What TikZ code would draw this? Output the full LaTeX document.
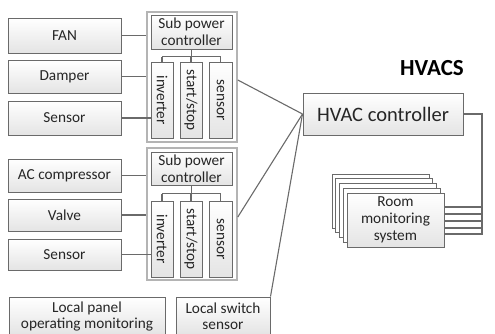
\documentclass[tikz,border=0pt]{standalone}
\usepackage{fontspec}
\setmainfont{Carlito}
\usepackage{graphicx}
\usetikzlibrary{calc}
\definecolor{edge}{HTML}{6A6A6A}
\definecolor{grpedge}{HTML}{B4B4B4}
\definecolor{boxbot}{HTML}{E4E4E4}
\tikzset{
  box/.style={draw=edge, line width=1pt, top color=white, bottom color=boxbot,
    inner sep=0pt, align=center, font=\fontsize{15.3}{17}\selectfont, text=black!85},
  grp/.style={draw=grpedge, line width=1.6pt, fill=white, inner sep=0pt},
  wire/.style={draw=edge, line width=1.1pt},
  stk/.style={draw=edge, line width=1pt, fill=white, minimum width=97pt, minimum height=54pt, inner sep=0pt},
}
\begin{document}
\begin{tikzpicture}[x=1pt,y=-1pt]
\useasboundingbox (0,0) rectangle (495,333);
% left device boxes
\node[box, minimum width=113pt, minimum height=35pt] (fan) at (64.5,35.5) {FAN};
\node[box, minimum width=113pt, minimum height=33pt] (damper) at (64.5,76.5) {Damper};
\node[box, minimum width=113pt, minimum height=34pt] (sensA) at (64.5,118) {Sensor};
\node[box, minimum width=113pt, minimum height=33pt] (acc) at (64.5,175.5) {AC compressor};
\node[box, minimum width=113pt, minimum height=32pt] (valve) at (64.5,215) {Valve};
\node[box, minimum width=113pt, minimum height=31pt] (sensB) at (64.5,254.5) {Sensor};
% group 1
\node[grp, minimum width=90pt, minimum height=130pt] (grp1) at (192,77) {};
\node[box, minimum width=81pt, minimum height=34pt] (spc1) at (191.5,32) {Sub power\\controller};
\node[box, minimum width=22pt, minimum height=76pt] (inv1) at (162,100) {\rotatebox{-90}{inverter}};
\node[box, minimum width=22pt, minimum height=76pt] (ss1) at (191,100) {\rotatebox{-90}{start/stop}};
\node[box, minimum width=23pt, minimum height=76pt] (sn1) at (220.5,100) {\rotatebox{-90}{sensor}};
% group 2
\node[grp, minimum width=90pt, minimum height=132pt] (grp2) at (192,214) {};
\node[box, minimum width=81pt, minimum height=33pt] (spc2) at (191.5,168.5) {Sub power\\controller};
\node[box, minimum width=22pt, minimum height=76pt] (inv2) at (162,239) {\rotatebox{-90}{inverter}};
\node[box, minimum width=22pt, minimum height=76pt] (ss2) at (191,239) {\rotatebox{-90}{start/stop}};
\node[box, minimum width=23pt, minimum height=76pt] (sn2) at (220.5,239) {\rotatebox{-90}{sensor}};
% bottom boxes
\node[box, minimum width=156pt, minimum height=38pt, font=\fontsize{15.3}{16}\selectfont] (lpanel) at (87,316) {Local panel\\operating monitoring};
\node[box, minimum width=94pt, minimum height=38pt, font=\fontsize{15.3}{16}\selectfont] (lswitch) at (223,316) {Local switch\\sensor};
% HVAC
\node[font=\fontsize{23}{26}\selectfont\bfseries, inner sep=0pt] (title) at (432,68) {HVACS};
\node[box, minimum width=160pt, minimum height=42pt, font=\fontsize{20.5}{23}\selectfont] (hvac) at (383,114) {HVAC controller};
% room monitoring stack
\foreach \k in {4,3,2,1} {
  \node[stk] (st\k) at ({395.5-3.75*\k},{220-4.75*\k}) {};
}
\node[box, minimum width=97pt, minimum height=54pt] (room) at (395.5,220) {Room\\monitoring\\system};
% bus connectors inside groups
\draw[wire] (spc1.south) -- ++(0,7) coordinate (b1);
\draw[wire] (inv1.north |- b1) -- (sn1.north |- b1);
\draw[wire] (inv1.north |- b1) -- (inv1.north);
\draw[wire] (ss1.north |- b1) -- (ss1.north);
\draw[wire] (sn1.north |- b1) -- (sn1.north);
\draw[wire] (spc2.south) -- ++(0,8) coordinate (b2);
\draw[wire] (inv2.north |- b2) -- (sn2.north |- b2);
\draw[wire] (inv2.north |- b2) -- (inv2.north);
\draw[wire] (ss2.north |- b2) -- (ss2.north);
\draw[wire] (sn2.north |- b2) -- (sn2.north);
% device connectors
\draw[wire] (fan.east) -- (fan.east -| grp1.west);
\draw[wire] (damper.east) -- (damper.east -| grp1.west);
\draw[wire] (sensA.east) -- (sensA.east -| inv1.west);
\draw[wire] (acc.east) -- (acc.east -| grp2.west);
\draw[wire] (valve.east) -- (valve.east -| grp2.west);
\draw[wire] (sensB.east) -- (sensB.east -| inv2.west);
% to HVAC controller
\draw[wire] ($(grp1.east)+(0,3)$) -- (hvac.west);
\draw[wire] ($(grp2.east)+(0,3)$) -- (hvac.west);
\draw[wire] (lswitch.north east) -- (hvac.west);
% HVAC to rooms
\coordinate (vb) at (482,114);
\coordinate (vbend) at (482,234.5);
\draw[wire] (hvac.east) -- (vb) -- (vbend);
\foreach \dy [count=\i] in {-13,-6,1,8,14} {
  \coordinate (rl\i) at ($(room.east)+(0,\dy)$);
  \draw[wire] (rl\i) -- (rl\i -| vb);
}
\end{tikzpicture}
\end{document}
